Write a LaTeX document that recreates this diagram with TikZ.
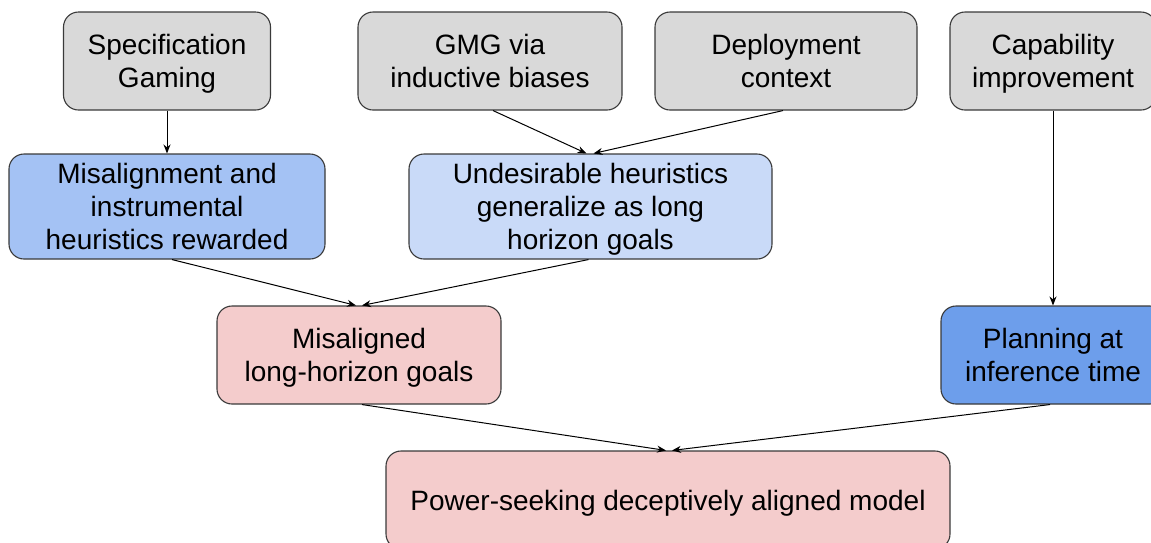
\documentclass[tikz,border=0pt]{standalone}
\usepackage{fontspec}
\setmainfont{Liberation Sans}
\usetikzlibrary{arrows.meta}
\definecolor{boxgray}{HTML}{D9D9D9}
\definecolor{bluemid}{HTML}{A4C2F4}
\definecolor{bluelight}{HTML}{C9DAF8}
\definecolor{bluedark}{HTML}{6D9EEB}
\definecolor{pinkbox}{HTML}{F4CCCC}
\definecolor{edge}{HTML}{3A3A3A}
\begin{document}
\begin{tikzpicture}[x=1pt,y=-1pt,
  box/.style={draw=edge, line width=1.1pt, rounded corners=15pt, align=center,
    inner sep=0pt, text depth=0pt, font=\fontsize{28}{33}\selectfont},
  conn/.style={draw=black, line width=1pt, -{Stealth[length=9pt,width=7pt]}}]
\path[use as bounding box] (0,0) rectangle (1151,542);
\node[box, fill=boxgray, minimum width=207pt, minimum height=98pt] (spec) at (167,61) {Specification\\Gaming};
\node[box, fill=boxgray, minimum width=264pt, minimum height=98pt] (gmg) at (490,61) {GMG via\\inductive biases};
\node[box, fill=boxgray, minimum width=262pt, minimum height=98pt] (dep) at (786,61) {Deployment\\context};
\node[box, fill=boxgray, minimum width=206pt, minimum height=98pt] (cap) at (1053,61) {Capability\\improvement};
\node[box, fill=bluemid, minimum width=316pt, minimum height=105pt] (mis) at (167,206.5) {Misalignment and\\instrumental\\heuristics rewarded};
\node[box, fill=bluelight, minimum width=363pt, minimum height=105pt] (und) at (590.5,206.5) {Undesirable heuristics\\generalize as long\\horizon goals};
\node[box, fill=pinkbox, minimum width=284pt, minimum height=98pt] (mlg) at (359,355) {Misaligned\\long-horizon goals};
\node[box, fill=bluedark, minimum width=224pt, minimum height=98pt] (plan) at (1053,355) {Planning at\\inference time};
\node[box, fill=pinkbox, minimum width=564pt, minimum height=98pt] (pow) at (668,500) {Power-seeking deceptively aligned model};
\draw[conn] (spec.south) -- (mis.north);
\draw[conn] ([xshift=3pt]gmg.south) -- ([xshift=-4pt]und.north);
\draw[conn] ([xshift=-3pt]dep.south) -- ([xshift=3pt]und.north);
\draw[conn] (cap.south) -- (plan.north);
\draw[conn] ([xshift=5pt]mis.south) -- ([xshift=-3pt]mlg.north);
\draw[conn] ([xshift=-2pt]und.south) -- ([xshift=3pt]mlg.north);
\draw[conn] ([xshift=3pt]mlg.south) -- ([xshift=-2pt]pow.north);
\draw[conn] ([xshift=-3pt]plan.south) -- ([xshift=4pt]pow.north);
\end{tikzpicture}
\end{document}
